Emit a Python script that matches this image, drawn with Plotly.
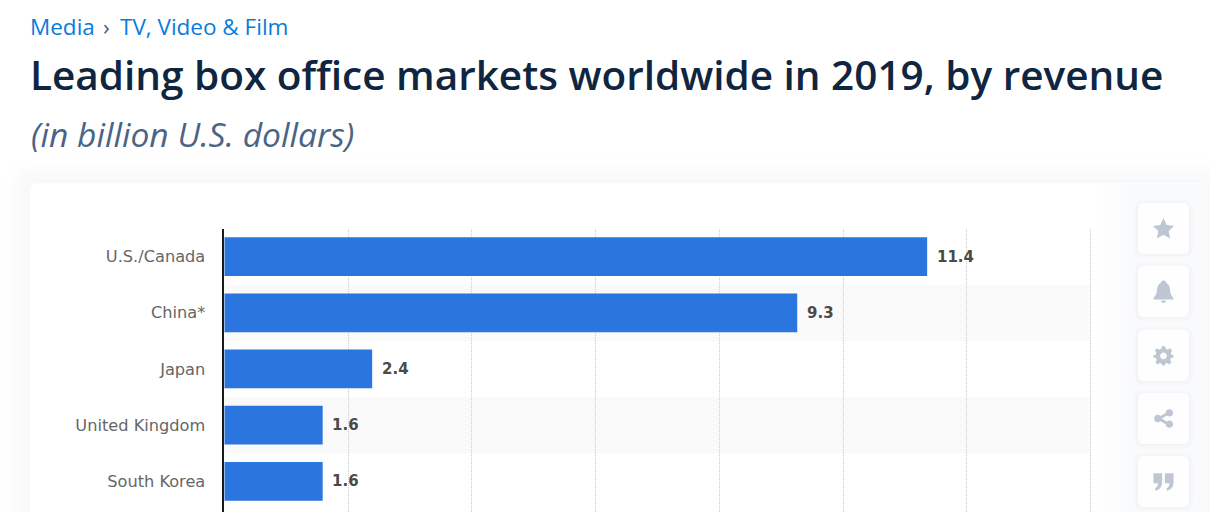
import plotly.graph_objects as go

# Page size, everything outside the plot is placed in pixels
W = 1210
H = 512

# Values (bar lengths, the printed labels are rounded)
countries = ["U.S./Canada", "China*", "Japan", "United Kingdom", "South Korea"]
revenue = [11.36, 9.26, 2.39, 1.59, 1.59]
value_labels = ["11.4", "9.3", "2.4", "1.6", "1.6"]
x_ticks = [0, 2, 4, 6, 8, 10, 12, 14]
striped_rows = [1, 3]

breadcrumb = "Media"
breadcrumb_sep = "›"
breadcrumb_sub = "TV, Video & Film"
title = "Leading box office markets worldwide in 2019, by revenue"
subtitle = "(in billion U.S. dollars)"

# Icons on the right of the card, as svg paths on a 24x24 grid
icon_paths = {
    "star": "M12 1 L15.4 8.4 L23 9.3 L17.4 14.7 L18.9 22.5 L12 18.6 L5.1 22.5 L6.6 14.7 L1 9.3 L8.6 8.4 Z",
    "bell": "M12 1 C14 1 14.6 2.5 14.7 3.6 C17.5 4.8 18.3 7.5 18.5 10.5 C18.8 14.5 20 16.5 22 18.5 L22 20 L2 20 L2 18.5 C4 16.5 5.2 14.5 5.5 10.5 C5.7 7.5 6.5 4.8 9.3 3.6 C9.4 2.5 10 1 12 1 Z M9.5 21 L14.5 21 C14.5 22.5 13.5 23.5 12 23.5 C10.5 23.5 9.5 22.5 9.5 21 Z",
    "cog": "M10 1 L14 1 L14.6 4 L17 5 L19.6 3.3 L22.4 6.1 L20.7 8.7 L21.7 11 L24 11.6 L24 14.4 L21 15 L20 17.4 L21.7 20 L18.9 22.8 L16.3 21.1 L14 22 L13.5 24 L10.5 24 L10 22 L7.7 21.1 L5.1 22.8 L2.3 20 L4 17.4 L3 15 L0 14.4 L0 11.6 L3 11 L3.3 8.7 L1.6 6.1 L4.4 3.3 L7 5 L9.4 4 Z M12 8.5 C9.8 8.5 8 10.3 8 12.5 C8 14.7 9.8 16.5 12 16.5 C14.2 16.5 16 14.7 16 12.5 C16 10.3 14.2 8.5 12 8.5 Z",
    "share": "M19 1 C21.6 1 23.5 3 23.5 5.3 C23.5 7.7 21.6 9.6 19 9.6 C17.9 9.6 16.9 9.2 16.1 8.5 L10 12 L16.1 15.6 C16.9 14.9 17.9 14.5 19 14.5 C21.6 14.5 23.5 16.4 23.5 18.8 C23.5 21.2 21.6 23 19 23 C16.6 23 14.6 21.2 14.6 18.8 L8.3 15.2 C7.5 16 6.4 16.5 5.2 16.5 C2.7 16.5 0.8 14.5 0.8 12 C0.8 9.6 2.7 7.6 5.2 7.6 C6.4 7.6 7.5 8.1 8.3 8.9 L14.6 5.3 C14.6 3 16.6 1 19 1 Z",
    "quote": "M1 3 L10.5 3 L10.5 12.5 C10.5 17.5 8 21 3.5 22 L2.5 19.5 C4.8 18.8 6 17 6 14 L1 14 Z M13.5 3 L23 3 L23 12.5 C23 17.5 20.5 21 16 22 L15 19.5 C17.3 18.8 18.5 17 18.5 14 L13.5 14 Z",
}
icon_names = ["star", "bell", "cog", "share", "quote"]
icon_tops = [203, 266, 330, 393, 456]
icon_sizes = [23, 24, 20, 20, 22]


def px(x):
    return x / W


def py(y):
    return 1 - y / H


def mix(t):
    # white to the pale grey of the shadow, t in 0..1
    c = [round(255 - t * (255 - v)) for v in (247, 248, 250)]
    return "#%02x%02x%02x" % tuple(c)


def rounded(x0, y0, x1, y1, r):
    # rounded rectangle path in paper coordinates, from pixels
    pts = [
        f"M{px(x0 + r)} {py(y0)}", f"L{px(x1 - r)} {py(y0)}",
        f"Q{px(x1)} {py(y0)} {px(x1)} {py(y0 + r)}", f"L{px(x1)} {py(y1 - r)}",
        f"Q{px(x1)} {py(y1)} {px(x1 - r)} {py(y1)}", f"L{px(x0 + r)} {py(y1)}",
        f"Q{px(x0)} {py(y1)} {px(x0)} {py(y1 - r)}", f"L{px(x0)} {py(y0 + r)}",
        f"Q{px(x0)} {py(y0)} {px(x0 + r)} {py(y0)}", "Z",
    ]
    return " ".join(pts)


def icon_to_paper(path, left, top, size):
    # scale a 24x24 icon path into paper coordinates
    out = []
    is_x = True
    for tok in path.split():
        letter = ""
        if tok[0].isalpha():
            letter = tok[0]
            tok = tok[1:]
            if letter == "Z":
                out.append("Z")
                continue
        val = float(tok)
        if is_x:
            out.append(letter + str(px(left + val * size / 24)))
        else:
            out.append(letter + str(py(top + val * size / 24)))
        is_x = not is_x
    return " ".join(out)


shapes = []

# soft shadow round the card. Opaque steps, very low alpha gets rounded to a tint
for grow in range(28, 0, -3):
    shapes.append(dict(type="path", xref="paper", yref="paper", layer="below",
                       path=rounded(30 - grow, 183 - grow, 1208 + grow, 560, 8 + grow),
                       fillcolor=mix(1 - grow / 28), line_width=0))

# the card
shapes.append(dict(type="path", xref="paper", yref="paper", layer="below",
                   path=rounded(30, 183, 1208, 560, 8),
                   fillcolor="#ffffff", line_width=0))

# pale panel behind the icons, fades in from the left
for x0 in range(1096, 1136, 4):
    shapes.append(dict(type="path", xref="paper", yref="paper", layer="below",
                       path=rounded(x0, 184, 1208, 560, 8),
                       fillcolor=mix(0.85 * (x0 - 1092) / 44), line_width=0))

# striped rows behind the bars
for row in striped_rows:
    shapes.append(dict(type="rect", xref="x", yref="y", layer="below",
                       x0=x_ticks[0], x1=x_ticks[-1], y0=row - 0.5, y1=row + 0.5,
                       fillcolor="#fafafa", line_width=0))

# icon buttons
for name, top, size in zip(icon_names, icon_tops, icon_sizes):
    for grow, col in [(4, "#f6f7f9"), (2, "#f4f5f8"), (1, "#f2f3f6")]:
        shapes.append(dict(type="path", xref="paper", yref="paper",
                           path=rounded(1138 - grow, top - grow + 1, 1189 + grow, top + 51 + grow, 6 + grow),
                           fillcolor=col, line_width=0))
    shapes.append(dict(type="path", xref="paper", yref="paper",
                       path=rounded(1138, top, 1189, top + 51, 6),
                       fillcolor="#fefefe", line_width=0))
    shapes.append(dict(type="path", xref="paper", yref="paper",
                       path=icon_to_paper(icon_paths[name], 1163.5 - size / 2, top + 25.5 - size / 2, size),
                       fillcolor="#bec6d3", line_width=0))

annotations = [
    dict(x=px(28), y=py(26), text=breadcrumb, font=dict(family="Open Sans", size=22.5, color="#0a7bdc")),
    dict(x=px(101), y=py(26), text=breadcrumb_sep, font=dict(family="Open Sans", size=22.5, color="#4a5a70")),
    dict(x=px(118), y=py(26), text=breadcrumb_sub, font=dict(family="Open Sans", size=22.5, color="#0a7bdc")),
    dict(x=px(28), y=py(74), text=title, font=dict(family="Open Sans", size=40.5, color="#0f2540", weight=600)),
    dict(x=px(29), y=py(134), text=subtitle, font=dict(family="Open Sans", size=33.6, color="#4a6486", style="italic")),
]
for a in annotations:
    a.update(xref="paper", yref="paper", xanchor="left", yanchor="middle", showarrow=False)

# value labels sit further from the bar than plotly's outside text does
for country, value, label in zip(countries, revenue, value_labels):
    annotations.append(dict(
        xref="x", yref="y", x=value, y=country, text=label, showarrow=False,
        xanchor="left", yanchor="middle", xshift=7.5,
        font=dict(family="DejaVu Sans", size=15, color="#4a4a4a", weight="bold"),
    ))

fig = go.Figure(go.Bar(
    x=revenue,
    y=countries,
    orientation="h",
    width=0.69,
    marker=dict(color="#2a75de", line_width=0),
    hoverinfo="skip",
))

fig.update_layout(
    width=W,
    height=H,
    margin=dict(l=0, r=0, t=0, b=0),
    paper_bgcolor="#ffffff",
    plot_bgcolor="rgba(0,0,0,0)",
    showlegend=False,
    shapes=shapes,
    annotations=annotations,
    xaxis=dict(
        domain=[px(224.3), px(1093.6)],
        # a little past the last tick, plotly drops a gridline right on the edge
        range=[0, 14.05],
        tickvals=x_ticks,
        showticklabels=False,
        showgrid=True,
        gridcolor="#cccccc",
        griddash="1px,1px",
        gridwidth=1,
        zeroline=False,
    ),
    yaxis=dict(
        domain=[0, py(228.5)],
        type="category",
        categoryorder="array",
        categoryarray=countries,
        # the card runs on below the photographed window, so the last row is cut
        range=[4.545, -0.5],
        ticks="",
        ticklabelstandoff=14,
        tickfont=dict(family="DejaVu Sans", size=16.2, color="#666666"),
        showline=True,
        linecolor="#1a1a1a",
        linewidth=1.5,
        showgrid=False,
        zeroline=False,
    ),
)

fig.write_html("out.html", config=dict(displayModeBar=False),
               post_script="document.body.style.margin='0';")
